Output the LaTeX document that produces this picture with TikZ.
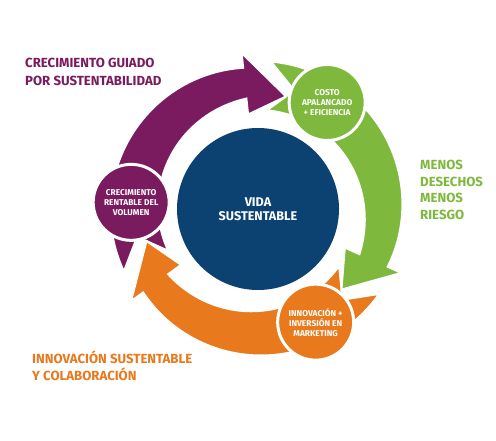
\documentclass[tikz,border=0pt]{standalone}
\usepackage{fontspec}
\setmainfont{Fira Sans}
\usetikzlibrary{calc}
\definecolor{cpurple}{HTML}{7A1B5F}
\definecolor{cgreen}{HTML}{7EB83D}
\definecolor{corange}{HTML}{E8791C}
\definecolor{cblue}{HTML}{0C4272}
\newcommand\ringarrow[2]{%
  \path[arrowband=#2]
    plot[domain=0:109, samples=60, variable=\t] ({#1+\t}:{99+12*(\t/109)^2})
    -- ({#1+109}:95) -- ({#1+129}:116) -- ({#1+109}:157)
    -- plot[domain=109:0, samples=60, variable=\t] ({#1+\t}:{148-6*(\t/109)^2})
    -- ({#1+12}:124) -- cycle;}
\begin{document}
\begin{tikzpicture}[x=1pt,y=-1pt,
  arrowband/.style={fill=#1, draw=white, line width=2pt, line join=miter},
  smallcirc/.style={circle, fill=#1, draw=white, line width=3pt, minimum size=76pt,
    inner sep=0pt, align=center, text=white, font=\bfseries\fontsize{8.4}{10}\selectfont},
  sidetitle/.style={anchor=base west, inner sep=0pt, text=#1, font=\bfseries\fontsize{13.2}{17}\selectfont}
]
\useasboundingbox[fill=white] (0,0) rectangle (496,441);
\coordinate (c) at (258,209);
\begin{scope}[shift={(c)}]
  \ringarrow{155}{cpurple}
  \ringarrow{35}{corange}
  \ringarrow{-85}{cgreen}
  \node[circle, fill=cblue, minimum size=162pt, inner sep=0pt, align=center, text=white,
        font=\bfseries\fontsize{12.6}{14}\selectfont] (vida) at (0,0) {VIDA\\SUSTENTABLE};
  \node[smallcirc=cgreen] (costo) at (-57:127) {COSTO\\APALANCADO\\+ EFICIENCIA};
  \node[smallcirc=cpurple] (crec) at (183:127) {CRECIMIENTO\\RENTABLE DEL\\VOLUMEN};
  \node[smallcirc=corange] (innov) at (63:127) {INNOVACIÓN +\\INVERSIÓN EN\\MARKETING};
\end{scope}
\node[sidetitle=cpurple] (p1) at (25,68) {CRECIMIENTO GUIADO};
\node[sidetitle=cpurple] (p2) at (25,86) {POR SUSTENTABILIDAD};
\node[sidetitle=cgreen] (g1) at (420,170) {MENOS};
\node[sidetitle=cgreen] (g2) at (420,187) {DESECHOS};
\node[sidetitle=cgreen] (g3) at (420,203) {MENOS};
\node[sidetitle=cgreen] (g4) at (420,220) {RIESGO};
\node[sidetitle=corange] (o1) at (32,363) {INNOVACIÓN SUSTENTABLE};
\node[sidetitle=corange] (o2) at (32,380) {Y COLABORACIÓN};
\end{tikzpicture}
\end{document}
